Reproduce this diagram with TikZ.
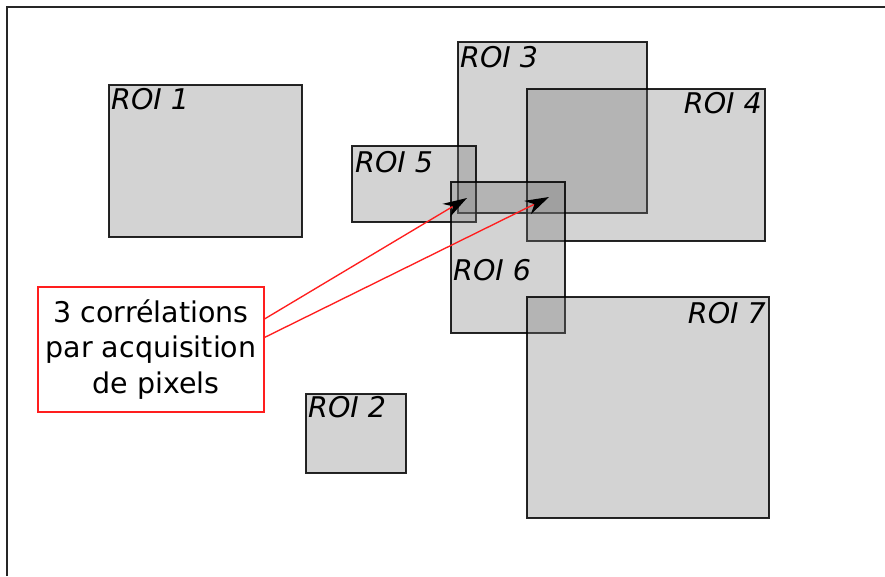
\documentclass[tikz,border=0pt]{standalone}
\usepackage{fontspec}
\setmainfont{DejaVu Sans}
\usetikzlibrary{arrows.meta}
\definecolor{roifill}{RGB}{117,117,117}
\definecolor{linkred}{RGB}{255,30,30}
\tikzset{
  roi/.style={draw=black, draw opacity=0.85, line width=1.2pt, fill=roifill, fill opacity=0.32},
  roilabel/.style={font=\fontsize{28.5}{31}\selectfont\itshape, inner sep=0pt, text=black},
  notebox/.style={draw=linkred, line width=1.1pt, fill=white, minimum width=226pt, minimum height=125pt,
    inner sep=0pt, align=center, font=\fontsize{28.5}{35.5}\selectfont},
  link/.style={draw=linkred, line width=1.35pt, -{Stealth[length=24pt,width=15pt,black]}}
}
\begin{document}
\begin{tikzpicture}[x=1pt,y=-1pt]
\useasboundingbox (0,0) rectangle (885,576);
\draw[line width=1.6pt, black!85] (7,576) -- (7,7) -- (885,7);
% boxes
\path[roi] (109,85) rectangle (302,237);
\path[roi] (306,394) rectangle (406,473);
\path[roi] (458,42) rectangle (647,213);
\path[roi] (527,89) rectangle (765,241);
\path[roi] (352,146) rectangle (476,222);
\path[roi] (451,182) rectangle (565,333);
\path[roi] (527,297) rectangle (769,518);
% labels
\node[roilabel, anchor=base west] (l1) at (111,109) {ROI 1};
\node[roilabel, anchor=base west] (l2) at (308,417) {ROI 2};
\node[roilabel, anchor=base west] (l3) at (460,67) {ROI 3};
\node[roilabel, anchor=base east] (l4) at (762,113) {ROI 4};
\node[roilabel, anchor=base west] (l5) at (355,172) {ROI 5};
\node[roilabel, anchor=base west] (l6) at (453,280) {ROI 6};
\node[roilabel, anchor=base east] (l7) at (766,323) {ROI 7};
% note
\node[notebox] (note) at (151,349.5) {3 corrélations\\par acquisition\\\hspace{0.35em}de pixels};
\coordinate (t1) at (467,198);
\coordinate (t2) at (549,197);
\draw[link] ([yshift=-32.5pt]note.north east) -- (t1);
\draw[link] ([yshift=-51pt]note.north east) -- (t2);
\end{tikzpicture}
\end{document}
